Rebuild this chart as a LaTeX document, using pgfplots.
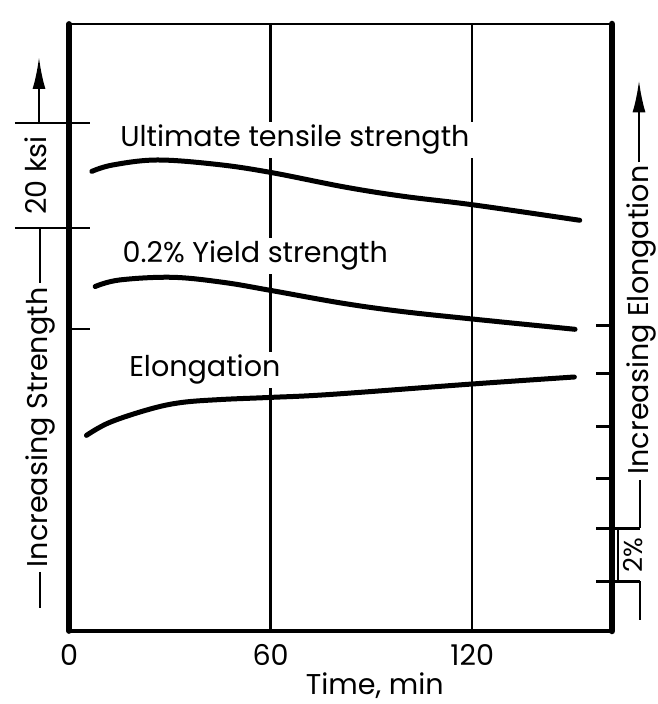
\documentclass[border=0pt]{standalone}
\usepackage{pgfplots}
\pgfplotsset{compat=1.18}
\usepackage{fontspec}
\setmainfont{Poppins}
\usetikzlibrary{arrows.meta}
\newcommand{\lab}{\fontsize{28.6}{33}\selectfont}
\begin{document}
\begin{tikzpicture}
\useasboundingbox (-69pt,-73pt) rectangle (588pt,631pt);
\begin{axis}[
  at={(0pt,0pt)}, anchor=south west,
  scale only axis, width=543pt, height=608pt,
  xmin=0, xmax=161.6, ymin=0, ymax=608,
  axis line style={draw=none},
  clip=false,
  xtick={0,60,120}, xticklabels={0,60,120},
  ytick=\empty,
  major tick length=0pt,
  xmajorgrids, grid style={black, line width=2.4pt},
  /pgf/number format/assume math mode=true,
  xticklabel style={font=\lab, anchor=base, yshift=-34pt},
]
\node[anchor=base west, fill=white, inner sep=3pt, font=\lab] at (axis cs:14.3,484) {Ultimate tensile strength};
\node[anchor=base west, fill=white, inner sep=3pt, font=\lab] at (axis cs:15,368) {0.2\% Yield strength};
\node[anchor=base west, fill=white, inner sep=3pt, font=\lab] at (axis cs:17,254) {Elongation};
\node[anchor=base, inner sep=0pt, font=\lab] at (axis cs:91,-63) {Time, min};
\addplot[black, line width=5pt, line cap=round, smooth, tension=0.6] coordinates {
 (6.8,459.6) (13,466) (26.2,471) (44,466.6) (59.8,458.7) (82,444) (99.5,434.7) (120.6,426) (152,410.7)};
\addplot[black, line width=5pt, line cap=round, smooth, tension=0.6] coordinates {
 (7.8,344.5) (15,351) (30.7,353.7) (46,348.6) (60,340.6) (81,328) (98.6,319.7) (120,312) (150.6,301.7)};
\addplot[black, line width=5pt, line cap=round, smooth, tension=0.6] coordinates {
 (5.2,195.6) (12.1,208.6) (24.2,222) (33.5,228.5) (45.3,231.5) (60,233.6) (78,236.6) (120,247) (150.4,254)};
\end{axis}
% frame
\draw[line width=5.7pt, line cap=round] (0pt,607pt) -- (0pt,0pt);
\draw[line width=4.2pt, line cap=round] (0pt,0pt) -- (543pt,0pt);
\draw[line width=6.5pt, line cap=round] (543pt,0pt) -- (543pt,607pt);
\draw[line width=1.7pt] (0pt,607pt) -- (543pt,607pt);
% left annotations
\begin{scope}[line width=2.6pt]
\draw (-54pt,508pt) -- (21pt,508pt);
\draw (-54pt,403pt) -- (21pt,403pt);
\draw (0pt,302pt) -- (21pt,302pt);
\draw[-{Latex[length=32pt,width=13pt]}] (-30pt,508pt) -- (-30pt,574pt);
\draw (-29pt,403pt) -- (-29pt,348pt);
\draw (-29pt,59pt) -- (-29pt,23pt);
\end{scope}
\node[rotate=90, font=\lab] at (-33pt,455.5pt) {20 ksi};
\node[rotate=90, font=\lab] at (-29pt,203.5pt) {Increasing Strength};
% right annotations
\begin{scope}[line width=2.6pt]
\foreach \yy in {305.7,257.7,204.7,152.7} {\draw (527pt,\yy pt) -- (543pt,\yy pt);}
\draw (527pt,102.7pt) -- (571pt,102.7pt);
\draw (527pt,49.7pt) -- (571pt,49.7pt);
\draw[-{Latex[length=32pt,width=13pt]}] (570pt,468.7pt) -- (570pt,550.7pt);
\draw (571pt,150.7pt) -- (571pt,102.7pt);
\draw (571pt,49.7pt) -- (571pt,10.7pt);
\end{scope}
\draw[line width=1.5pt] (549pt,102.7pt) -- (549pt,49.7pt);
\node[rotate=90, font=\fontsize{26}{30}\selectfont] at (564pt,76pt) {2\%};
\node[rotate=90, font=\lab] at (572pt,311pt) {Increasing Elongation};
\end{tikzpicture}
\end{document}
